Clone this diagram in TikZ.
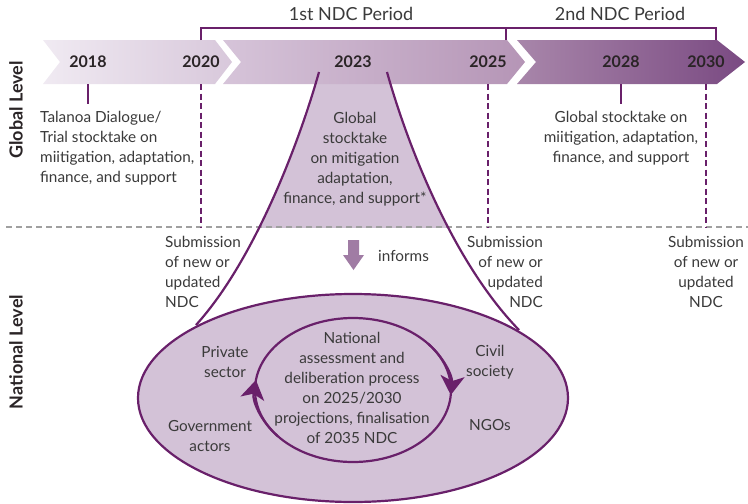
\documentclass[tikz,border=0pt]{standalone}
\usepackage{fontspec}
\setmainfont{Lato}
\usetikzlibrary{arrows.meta,shapes.geometric}
\definecolor{plum}{HTML}{69206A}
\definecolor{txt}{HTML}{3A3A3A}
\definecolor{yeartxt}{HTML}{2A2426}
\definecolor{fillp}{HTML}{D3C2D7}
\definecolor{informc}{HTML}{A07CA4}
\definecolor{dashgray}{HTML}{A0A0A0}
\definecolor{b1l}{HTML}{F0EAF2}
\definecolor{b1r}{HTML}{D8C8DB}
\definecolor{b2l}{HTML}{D6C4D9}
\definecolor{b2r}{HTML}{B595B6}
\definecolor{b3l}{HTML}{A886AA}
\definecolor{b3r}{HTML}{7A4A82}
\tikzset{
  body/.style={text=txt, inner sep=0pt, font=\fontsize{15.3}{20}\selectfont},
  year/.style={text=yeartxt, inner sep=0pt, font=\fontsize{16}{18}\selectfont\bfseries},
  period/.style={text=txt, inner sep=0pt, font=\fontsize{18}{20}\selectfont},
  level/.style={text=yeartxt, inner sep=0pt, rotate=90, font=\fontsize{18}{20}\selectfont\bfseries},
  plumline/.style={draw=plum, line width=2pt},
  plumdash/.style={draw=plum, line width=1.3pt, dash pattern=on 6pt off 3.5pt},
  tip/.style={-{Stealth[length=19pt,width=24pt,inset=5pt]}}
}
\begin{document}
\begin{tikzpicture}[x=1pt,y=-1pt]
\useasboundingbox (0,0) rectangle (748,504);
% funnel fill (global part)
\begin{scope}
  \clip (0,84) rectangle (748,227);
  \fill[fillp] (319,72) .. controls (300,140) and (255,260) .. (196,325)
     -- (519,330) .. controls (451,260) and (406,140) .. (387,72) -- cycle;
\end{scope}
% timeline bands
\shade[left color=b1l, right color=b1r] (43,40) -- (215,40) -- (232,62) -- (215,84) -- (43,84) -- (60,62) -- cycle;
\shade[left color=b2l, right color=b2r] (223,40) -- (507,40) -- (525,62) -- (507,84) -- (223,84) -- (241,62) -- cycle;
\shade[left color=b3l, right color=b3r] (517,40) -- (717,40) -- (745,62) -- (717,84) -- (517,84) -- (536,62) -- cycle;
% years
\node[year] (y18) at (88,62) {2018};
\node[year] (y20) at (201,62) {2020};
\node[year] (y23) at (353,62) {2023};
\node[year] (y25) at (488,62) {2025};
\node[year] (y28) at (621,62) {2028};
\node[year] (y30) at (706,62) {2030};
% period brackets
\node[period] (p1) at (351,14) {1st NDC Period};
\node[period] (p2) at (620,14) {2nd NDC Period};
\coordinate (b1a) at (201,40);
\coordinate (b1b) at (506,40);
\coordinate (b2b) at (716,40);
\draw[draw=plum, line width=1.3pt] (b1a) -- (201,28) -- (716,28) -- (b2b);
\draw[draw=plum, line width=1.3pt] (b1b) -- (506,28);
% gray level divider
\coordinate (divL) at (6,227);
\coordinate (divR) at (748,227);
\draw[dashgray, line width=1.3pt, dash pattern=on 6pt off 4pt] (divL) -- (divR);
% dashed year lines
\coordinate (d20) at (201,227);
\coordinate (d25) at (488,227);
\coordinate (d30) at (706,227);
\draw[plumdash] (201,84) -- (d20);
\draw[plumdash] (488,84) -- (d25);
\draw[plumdash] (706,84) -- (d30);
% global texts
\node[body, anchor=west, align=left] (tal) at (40,148.5) {Talanoa Dialogue/\\Trial stocktake on\\miitigation, adaptation,\\finance, and support};
\draw[plumline] (88,84) -- (88,104);
\node[body, align=center] (gst) at (355,159) {Global\\stocktake\\on mitigation\\adaptation,\\finance, and support*};
\node[body, align=center] (gst2) at (621,138.5) {Global stocktake on\\miitigation, adaptation,\\finance, and support};
\draw[plumline] (621,84) -- (621,104);
% submission texts
\node[body, anchor=west, align=left] (s1) at (165,272) {Submission\\of new or\\updated\\NDC};
\node[body, anchor=east, align=right] (s2) at (543,272) {Submission\\of new or\\updated\\NDC};
\node[body, align=center] (s3) at (706,272) {Submission\\of new or\\updated\\NDC};
% informs arrow
\fill[informc] (348,240) -- (359,240) -- (359,255) -- (364,255) -- (353.5,270) -- (343,255) -- (348,255) -- cycle;
\node[body, anchor=west] (inf) at (378,256) {informs};
% funnel lines
\draw[plumline, line width=2.2pt] (319,72) .. controls (300,140) and (255,260) .. (196,325);
\draw[plumline, line width=2.2pt] (387,72) .. controls (406,140) and (451,260) .. (519,330);
% big national ellipse
\node[draw=plum, line width=2.2pt, fill=fillp, ellipse, minimum width=430pt, minimum height=208pt, inner sep=0pt] (nat) at (353,398) {};
% inner cycle
\draw[plum, line width=2.2pt] (353,390) ellipse [x radius=98, y radius=72];
\draw[plum, line width=2.2pt, tip] (277.9,436.3) arc[start angle=140, end angle=188, x radius=98, y radius=72];
\draw[plum, line width=2.2pt, tip] (428.1,343.7) arc[start angle=320, end angle=364, x radius=98, y radius=72];
% national texts
\node[body, align=center] (ctr) at (352,387.5) {National\\assessment and\\deliberation process\\on 2025/2030\\projections, finalisation\\of 2035 NDC};
\node[body, align=center] (priv) at (225,362) {Private\\sector};
\node[body, align=center] (gov) at (210,436) {Government\\actors};
\node[body, align=center] (civ) at (490,362) {Civil\\society};
\node[body, align=center] (ngo) at (490,425) {NGOs};
% level labels
\node[level] (gl) at (16,110) {Global Level};
\node[level] (nl) at (16,352) {National Level};
\end{tikzpicture}
\end{document}
